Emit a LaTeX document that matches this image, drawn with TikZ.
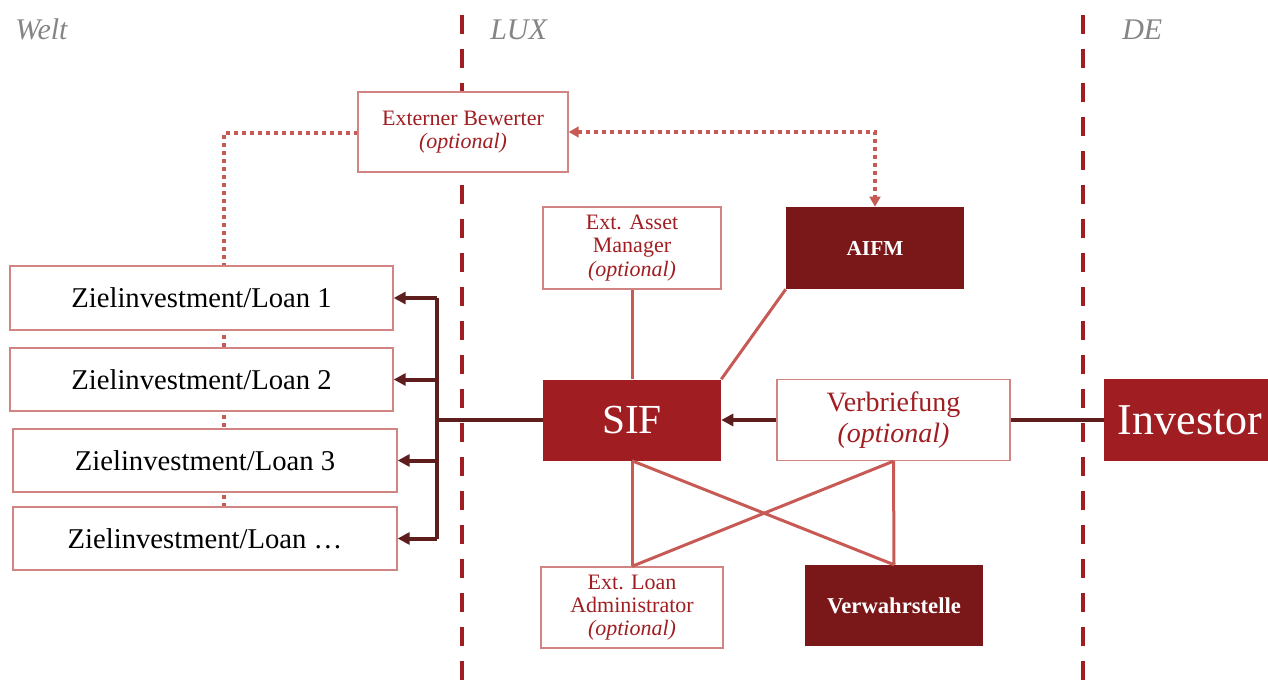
\documentclass[tikz,border=0pt]{standalone}
\usepackage{fontspec}
\setmainfont{Liberation Serif}
\usetikzlibrary{arrows.meta}
\definecolor{sifred}{HTML}{A01E21}
\definecolor{darkred}{HTML}{7A1718}
\definecolor{linered}{HTML}{C85A55}
\definecolor{boxborder}{HTML}{D08583}
\definecolor{brownc}{HTML}{5E1E1E}
\definecolor{txtred}{HTML}{A01E22}
\definecolor{graylbl}{HTML}{858585}
\begin{document}
\begin{tikzpicture}[x=0.75pt,y=-0.75pt,
 outlinebox/.style={draw=boxborder, line width=1pt, fill=white, align=center, text=txtred, inner sep=0pt},
 filledbox/.style={fill=#1, draw=none, text=white, align=center, inner sep=0pt},
 region/.style={text=graylbl, font=\itshape\fontsize{22.5}{26}\selectfont, anchor=base west, inner sep=0pt},
 frontier/.style={draw=sifred, line width=3pt, dash pattern=on 14.25pt off 11.25pt},
 lightlink/.style={draw=linered, line width=2.25pt},
 flow/.style={draw=brownc, line width=3pt},
 flowarrow/.style={flow, -{Triangle[length=9pt,width=9pt]}},
 dots/.style={draw=linered, line width=3pt, dash pattern=on 3pt off 3pt},
 smalltxt/.style={font=\fontsize{16.5}{17.5}\selectfont},
 zieltxt/.style={font=\fontsize{21.5}{25}\selectfont, text=black},
]
\useasboundingbox (0,0) rectangle (1268,688);

% frontiers
\coordinate (f1top) at (462,15); \coordinate (f1bot) at (462,688);
\coordinate (f2top) at (1083,15); \coordinate (f2bot) at (1083,688);
\draw[frontier] (f1top) -- (f1bot);
\draw[frontier] (f2top) -- (f2bot);

% region labels
\node[region] (welt) at (15,40) {Welt};
\node[region] (lux) at (490,40) {LUX};
\node[region] (de) at (1122,40) {DE};

% dotted line behind target boxes
\coordinate (dc) at (224,133);
\coordinate (dend) at (224,507);
\draw[dots] (358,133) -- (dc) -- (dend);

% boxes
\node[outlinebox, smalltxt, minimum width={210*0.75pt}, minimum height={80*0.75pt}] (bew) at (463,132) {Externer Bewerter\\\textit{(optional)}};
\node[outlinebox, smalltxt, minimum width={178*0.75pt}, minimum height={82*0.75pt}] (eam) at (632,248) {Ext. Asset\\Manager\\\textit{(optional)}};
\node[filledbox=darkred, font=\bfseries\fontsize{16}{19}\selectfont, minimum width={178*0.75pt}, minimum height={82*0.75pt}] (aifm) at (875,248) {AIFM};
\node[filledbox=sifred, font=\fontsize{31}{36}\selectfont, minimum width={178*0.75pt}, minimum height={81*0.75pt}] (sif) at (632,420) {SIF};
\node[outlinebox, font=\fontsize{21}{23}\selectfont, minimum width={233*0.75pt}, minimum height={81*0.75pt}] (verb) at (893.5,420) {Verbriefung\\\textit{(optional)}};
\node[filledbox=sifred, font=\fontsize{33}{38}\selectfont, minimum width={164*0.75pt}, minimum height={82*0.75pt}] (inv) at (1186,420) {\hspace{6pt}Investor};
\node[outlinebox, zieltxt, minimum width={383*0.75pt}, minimum height={64*0.75pt}] (z1) at (201.5,298) {Zielinvestment/Loan 1};
\node[outlinebox, zieltxt, minimum width={383*0.75pt}, minimum height={63*0.75pt}] (z2) at (201.5,379.5) {Zielinvestment/Loan 2};
\node[outlinebox, zieltxt, minimum width={384*0.75pt}, minimum height={63*0.75pt}] (z3) at (205,460.5) {Zielinvestment/Loan 3};
\node[outlinebox, zieltxt, minimum width={384*0.75pt}, minimum height={63*0.75pt}] (z4) at (205,538.5) {Zielinvestment/Loan \dots};
\node[outlinebox, smalltxt, minimum width={182*0.75pt}, minimum height={81*0.75pt}] (ela) at (632,607.5) {Ext. Loan\\Administrator\\\textit{(optional)}};
\node[filledbox=darkred, font=\bfseries\fontsize{17}{20}\selectfont, minimum width={178*0.75pt}, minimum height={81*0.75pt}] (ver) at (894,605.5) {Verwahrstelle};

% dotted double arrow
\draw[dots, {Triangle[length=7.5pt,width=8pt]}-{Triangle[length=7.5pt,width=8pt]}] (bew.east) -| (aifm.north);

% light links
\draw[lightlink] (eam.south) -- (sif.north);
\draw[lightlink] (aifm.south west) -- (sif.north east);
\draw[lightlink] (sif.south) -- (ela.north);
\draw[lightlink] (sif.south) -- (ver.north);
\draw[lightlink] (verb.south) -- (ver.north);
\draw[lightlink] (verb.south) -- (ela.north);

% flows
\coordinate (bus) at (437,420);
\draw[flow] (sif.west) -- (bus);
\draw[flow] (bus |- z1.east) -- (bus |- z4.east);
\draw[flowarrow] (bus |- z1.east) -- (z1.east);
\draw[flowarrow] (bus |- z2.east) -- (z2.east);
\draw[flowarrow] (bus |- z3.east) -- (z3.east);
\draw[flowarrow] (bus |- z4.east) -- (z4.east);
\draw[flowarrow] (verb.west) -- (sif.east);
\draw[flow] (verb.east) -- (inv.west);
\end{tikzpicture}
\end{document}
